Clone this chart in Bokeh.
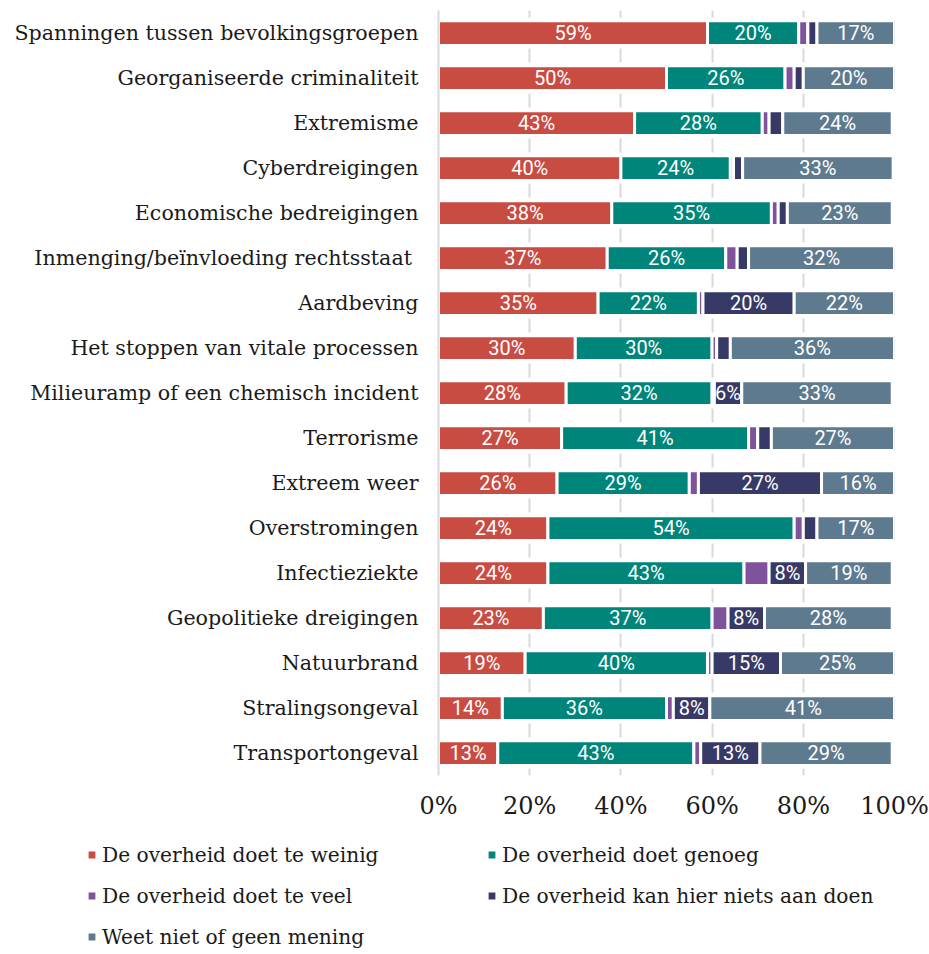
from bokeh.plotting import figure
from bokeh.models import (ColumnDataSource, Legend, LegendItem, FactorRange, Range1d,
                          FixedTicker)
from bokeh.core.properties import value
from bokeh.embed import file_html
from bokeh.resources import INLINE

categories = [
    "Spanningen tussen bevolkingsgroepen",
    "Georganiseerde criminaliteit",
    "Extremisme",
    "Cyberdreigingen",
    "Economische bedreigingen",
    "Inmenging/beïnvloeding rechtsstaat ",
    "Aardbeving",
    "Het stoppen van vitale processen",
    "Milieuramp of een chemisch incident",
    "Terrorisme",
    "Extreem weer",
    "Overstromingen",
    "Infectieziekte",
    "Geopolitieke dreigingen",
    "Natuurbrand",
    "Stralingsongeval",
    "Transportongeval",
]
weinig = [59, 50, 43, 40, 38, 37, 35, 30, 28, 27, 26, 24, 24, 23, 19, 14, 13]
genoeg = [20, 26, 28, 24, 35, 26, 22, 30, 32, 41, 29, 54, 43, 37, 40, 36, 43]
teveel = [2, 2, 1.5, 0.7, 1.5, 2.5, 1, 1, 0.5, 2, 2, 2, 5.5, 3.5, 1, 1.5, 1.5]
niets = [2, 2, 3, 2, 2, 2.5, 20, 3, 6, 3, 27, 3, 8, 8, 15, 8, 13]
weetniet = [17, 20, 24, 33, 23, 32, 22, 36, 33, 27, 16, 17, 19, 28, 25, 41, 29]

series_keys = ["weinig", "genoeg", "teveel", "niets", "weetniet"]
series_names = [
    "De overheid doet te weinig",
    "De overheid doet genoeg",
    "De overheid doet te veel",
    "De overheid kan hier niets aan doen",
    "Weet niet of geen mening",
]
colors = ["#C94C43", "#00857A", "#7F539B", "#373A66", "#5E7A8E"]
x_ticks = [0, 20, 40, 60, 80, 100]
x_tick_labels = ["0%", "20%", "40%", "60%", "80%", "100%"]

series_values = [weinig, genoeg, teveel, niets, weetniet]
data = {"cat": categories}
for k, v in zip(series_keys, series_values):
    data[k] = v
src = ColumnDataSource(data)

SERIF = "DejaVu Serif"
TEXT = "#1a1a1a"

p = figure(
    y_range=FactorRange(*reversed(categories)),
    x_range=Range1d(0, 100),
    width=929, height=828,
    min_border_left=438, min_border_right=35,
    min_border_top=10, min_border_bottom=53,
    output_backend="svg", toolbar_location=None,
)
p.outline_line_color = None

renderers = p.hbar_stack(series_keys, y="cat", height=0.55, color=colors,
                         line_color="white", line_width=3, source=src)

# segment labels
lx, ly, lt = [], [], []
for i, cat in enumerate(categories):
    left = 0.0
    for vals in series_values:
        v = vals[i]
        if v >= 6:
            lx.append(left + v / 2)
            ly.append(cat)
            lt.append(f"{round(v)}%")
        left += v
p.text(x=lx, y=ly, text=lt, text_align="center", text_baseline="middle",
       text_color="white", text_font=value("Roboto"), text_font_size="20px")

# grid
p.ygrid.visible = False
p.xgrid.ticker = FixedTicker(ticks=x_ticks)
p.xgrid.grid_line_color = "#D9D9D9"
p.xgrid.grid_line_width = 2
p.xgrid.grid_line_dash = "14 31"
p.xgrid.grid_line_dash_offset = 7

# x axis
xa = p.xaxis[0]
xa.ticker = FixedTicker(ticks=x_ticks)
xa.major_label_overrides = {t: l for t, l in zip(x_ticks, x_tick_labels)}
xa.axis_line_color = None
xa.major_tick_line_color = None
xa.minor_tick_line_color = None
xa.major_tick_out = 0
xa.major_label_standoff = 16
xa.major_label_text_font = SERIF
xa.major_label_text_font_size = "24px"
xa.major_label_text_color = TEXT

# y axis
ya = p.yaxis[0]
ya.axis_line_color = "#D9D9D9"
ya.axis_line_width = 2
ya.major_tick_line_color = None
ya.minor_tick_line_color = None
ya.major_tick_out = 0
ya.major_label_standoff = 20
ya.major_label_text_font = SERIF
ya.major_label_text_font_size = "20.6px"
ya.major_label_text_color = TEXT

# legend figure (separate root so its frame spans the full width);
# its swatch renderers are hidden, only the legend is shown
lg = figure(width=929, height=122, x_range=Range1d(0, 100),
            y_range=FactorRange(*reversed(categories)),
            min_border=0, output_backend="svg", toolbar_location=None)
lg.axis.visible = False
lg.grid.visible = False
lg.outline_line_color = None
dummies = lg.hbar_stack(series_keys, y="cat", height=0.55, color=colors,
                        line_color="white", line_width=2, source=src)
for r in dummies:
    r.visible = False

def make_legend(idx, loc):
    leg = Legend(
        items=[LegendItem(label=series_names[i], renderers=[dummies[i]]) for i in idx],
        location=loc, orientation="vertical",
        border_line_color=None, background_fill_alpha=0,
        inactive_fill_alpha=0,
        padding=0, margin=0, spacing=16, label_standoff=5,
        glyph_width=11, glyph_height=11, label_height=25,
        label_text_font=SERIF, label_text_font_size="20.2px",
        label_text_color=TEXT,
    )
    lg.add_layout(leg, "center")
    return leg

make_legend([0, 2, 4], (86, 1))
make_legend([1, 3], (486, 42))

open("out.html", "w").write(file_html([p, lg], INLINE))
